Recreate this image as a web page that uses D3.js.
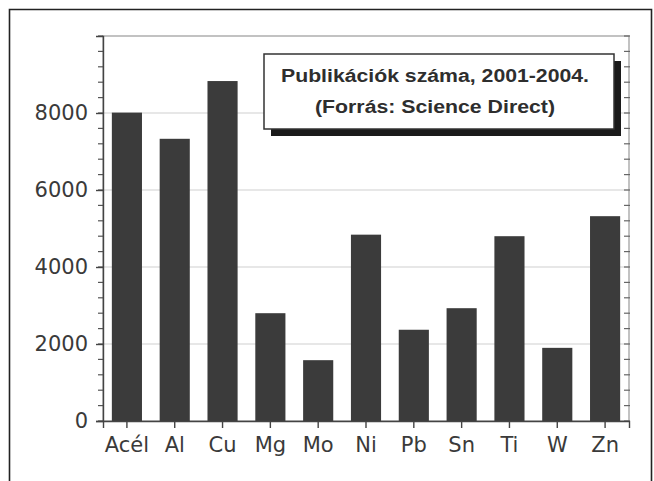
<!DOCTYPE html>
<html><head><meta charset="utf-8">
<script src="https://cdn.jsdelivr.net/npm/d3@7"></script>
<style>body{margin:0;background:#fff}svg{display:block}</style>
</head><body>
<svg id="chart" width="654" height="481"></svg>
<script>
const categories = ["Acél","Al","Cu","Mg","Mo","Ni","Pb","Sn","Ti","W","Zn"];
const values = [8010,7330,8830,2800,1580,4840,2370,2930,4800,1900,5320];
const yTicks = [0,2000,4000,6000,8000];
const titleLines = ["Publikációk száma, 2001-2004.","(Forrás: Science Direct)"];

const svg = d3.select("#chart");
const L=103, R=629, T=36, B=421;
const x = d3.scaleBand().domain(categories).range([L,R]).paddingInner(0.37).paddingOuter(0.185);
const y = d3.scaleLinear().domain([0,10000]).range([B,T]);

// outer page border
svg.append("path").attr("d","M9.5,481 V9.5 H651.5 V481").attr("fill","none").attr("stroke","#222").attr("stroke-width",1.6);

// grid
svg.append("g").selectAll("line").data(yTicks.filter(d=>d>0)).join("line")
  .attr("x1",L).attr("x2",R).attr("y1",d=>y(d)).attr("y2",d=>y(d))
  .attr("stroke","#cfcfcf").attr("stroke-width",1.2);

// frame
svg.append("rect").attr("x",L).attr("y",T).attr("width",R-L).attr("height",B-T)
  .attr("fill","none").attr("stroke","#9a9a9a").attr("stroke-width",1.2);

// bars
svg.append("g").selectAll("rect").data(values).join("rect")
  .attr("x",(d,i)=>x(categories[i])).attr("width",x.bandwidth())
  .attr("y",d=>y(d)).attr("height",d=>B-y(d))
  .attr("fill","#3b3b3b");

// minor ticks
const minor = d3.range(0,10001,400);
svg.append("g").selectAll("line").data(minor).join("line")
  .attr("x1",L-5).attr("x2",L).attr("y1",d=>y(d)).attr("y2",d=>y(d))
  .attr("stroke","#555").attr("stroke-width",1.2);
svg.append("g").selectAll("line").data(minor).join("line")
  .attr("x1",R-5).attr("x2",R+1).attr("y1",d=>y(d)).attr("y2",d=>y(d))
  .attr("stroke","#666").attr("stroke-width",1.2);

// y axis
const yAxis = svg.append("g").attr("transform",`translate(${L},0)`)
  .call(d3.axisLeft(y).tickValues(yTicks).tickSize(7).tickPadding(8).tickFormat(d3.format("d")));
yAxis.select(".domain").attr("stroke","#444").attr("stroke-width",1.4);
yAxis.selectAll(".tick line").attr("stroke","#444").attr("stroke-width",1.4);
yAxis.selectAll("text").attr("font-family","DejaVu Sans").attr("font-size",21).attr("fill","#3a3a3a");

// x axis
const xAxis = svg.append("g").attr("transform",`translate(0,${B})`)
  .call(d3.axisBottom(x).tickSize(7).tickPadding(9));
xAxis.select(".domain").attr("stroke","#444").attr("stroke-width",1.4);
xAxis.selectAll(".tick line").attr("stroke","#444").attr("stroke-width",1.4);
xAxis.selectAll("text").attr("font-family","DejaVu Sans").attr("font-size",21).attr("fill","#3a3a3a");

// title box
const bx=264, by=54, bw=350, bh=75;
svg.append("rect").attr("x",bx+7).attr("y",by+7).attr("width",bw).attr("height",bh).attr("fill","#1a1a1a");
svg.append("rect").attr("x",bx).attr("y",by).attr("width",bw).attr("height",bh)
  .attr("fill","#fff").attr("stroke","#333").attr("stroke-width",1.5);
svg.append("g").selectAll("text").data(titleLines).join("text")
  .attr("x",435).attr("y",(d,i)=>82+i*31).attr("text-anchor","middle")
  .attr("font-family","Liberation Sans, Arial, sans-serif").attr("font-weight","bold")
  .attr("font-size",18).attr("fill","#2e2e2e")
  .attr("textLength",(d,i)=>i===0?308:240).attr("lengthAdjust","spacingAndGlyphs")
  .text(d=>d);
</script>
</body></html>
